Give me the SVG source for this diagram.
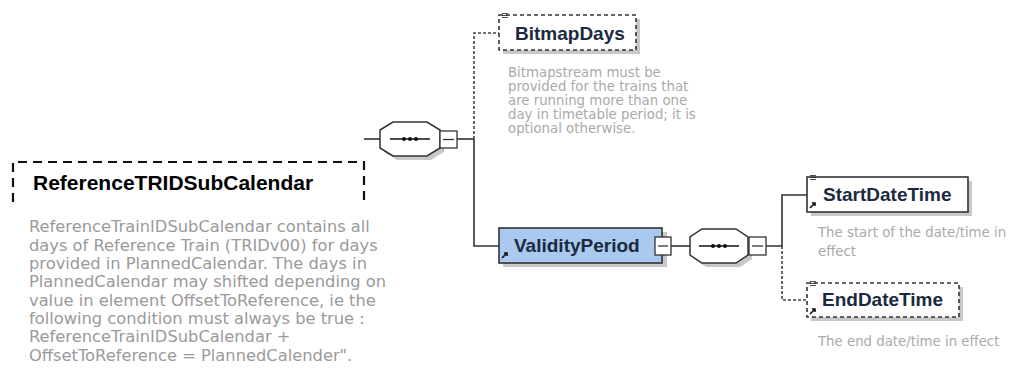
<svg xmlns="http://www.w3.org/2000/svg" width="1016" height="369" viewBox="0 0 1016 369">
<style>
.desc{font-family:"DejaVu Sans",Verdana,sans-serif;fill:#9a9a9a}
.big{font-size:16.3px}
.small{font-size:13.3px;fill:#aaaaaa}
.name{font-family:"Liberation Sans",Arial,sans-serif;font-weight:bold;font-size:19px;fill:#1a2a40}
.ln{stroke:#333;stroke-width:1.6;fill:none}
.dot{stroke:#444;stroke-width:1.6;fill:none;stroke-dasharray:3,2}
.shadow{fill:#c8c8c8}
.icon{stroke:#222;stroke-width:0.8;fill:none}
</style>
<defs>
<g id="seqdots"><line x1="-20" y1="0" x2="20" y2="0" stroke="#111" stroke-width="1.4"/><circle cx="-6" cy="0" r="2" fill="#111"/><circle cx="0" cy="0" r="2" fill="#111"/><circle cx="6" cy="0" r="2" fill="#111"/></g>
<g id="lines3"><line x1="0" y1="0.5" x2="6" y2="0.5" class="icon"/><line x1="0" y1="2.5" x2="6" y2="2.5" class="icon"/><line x1="0" y1="4.5" x2="6" y2="4.5" class="icon"/></g>
<g id="refarrow"><path d="M0,6 L5,1 M2,1 L5,1 L5,4" stroke="#111" stroke-width="1.6" fill="none"/></g>
</defs>

<g id="root">
<path d="M13,202 V162 H364 V202" fill="none" stroke="#111" stroke-width="2.2" stroke-dasharray="9,6"/>
<text x="33" y="190" font-family="Liberation Sans,Arial,sans-serif" font-weight="bold" font-size="21" fill="#000">ReferenceTRIDSubCalendar</text>
<g class="desc big">
<text x="29" y="232">ReferenceTrainIDSubCalendar contains all</text>
<text x="29" y="250.5">days of Reference Train (TRIDv00) for days</text>
<text x="29" y="269">provided in PlannedCalendar. The days in</text>
<text x="29" y="287">PlannedCalendar may shifted depending on</text>
<text x="29" y="305.5">value in element OffsetToReference, ie the</text>
<text x="29" y="324">following condition must always be true :</text>
<text x="29" y="342">ReferenceTrainIDSubCalendar +</text>
<text x="29" y="360.5">OffsetToReference = PlannedCalender".</text>
</g>
</g>

<g id="connectors">
<line x1="364" y1="139" x2="380" y2="139" class="ln"/>
<line x1="457" y1="139" x2="474" y2="139" class="ln"/>
<path d="M474,139 V246 H500" class="ln"/>
<path d="M474,139 V33 H499" class="dot"/>
<line x1="671" y1="246" x2="690" y2="246" class="ln"/>
<path d="M766,246 H782 V195 H807" class="ln"/>
<path d="M782,246 V300 H807" class="dot"/>
</g>

<g id="seq1">
<path d="M397,126 H431 L444,134 V152 L431,160 H397 L384,152 V134 Z" class="shadow"/>
<path d="M393,122 H427 L440,130 V148 L427,156 H393 L380,148 V130 Z" fill="#fff" stroke="#333" stroke-width="1.5"/>
<use href="#seqdots" x="410" y="139"/>
<rect x="440" y="131" width="17" height="17" fill="#fff" stroke="#333" stroke-width="1.3"/>
<line x1="443" y1="139.5" x2="454" y2="139.5" stroke="#333" stroke-width="1.3"/>
</g>

<g id="BitmapDays">
<rect x="503" y="19" width="137" height="35" class="shadow"/>
<rect x="499" y="15" width="137" height="35" fill="#fff" stroke="#333" stroke-width="1.6" stroke-dasharray="4,3"/>
<use href="#lines3" x="502" y="13"/>
<text x="515" y="40" class="name">BitmapDays</text>
<g class="desc small">
<text x="508" y="77">Bitmapstream must be</text>
<text x="508" y="91">provided for the trains that</text>
<text x="508" y="105">are running more than one</text>
<text x="508" y="119">day in timetable period; it is</text>
<text x="508" y="133">optional otherwise.</text>
</g>
</g>

<g id="ValidityPeriod">
<rect x="503" y="232" width="164" height="35" class="shadow"/>
<rect x="499" y="228" width="163" height="35" fill="#a9c9ee" stroke="#333" stroke-width="1.6"/>
<use href="#refarrow" x="502" y="252"/>
<text x="514" y="252" class="name">ValidityPeriod</text>
<rect x="655" y="237" width="16" height="18" fill="#fff" stroke="#333" stroke-width="1.3"/>
<line x1="658" y1="246" x2="668" y2="246" stroke="#333" stroke-width="1.3"/>
</g>

<g id="seq2">
<path d="M706,233 H740 L752,241 V259 L740,267 H706 L694,259 V241 Z" class="shadow"/>
<path d="M702,229 H736 L748,237 V255 L736,263 H702 L690,255 V237 Z" fill="#fff" stroke="#333" stroke-width="1.5"/>
<use href="#seqdots" x="719" y="246"/>
<rect x="749" y="237" width="17" height="18" fill="#fff" stroke="#333" stroke-width="1.3"/>
<line x1="752" y1="246" x2="763" y2="246" stroke="#333" stroke-width="1.3"/>
</g>

<g id="StartDateTime">
<rect x="811" y="181" width="161" height="35" class="shadow"/>
<rect x="807" y="177" width="161" height="35" fill="#fff" stroke="#333" stroke-width="1.6"/>
<use href="#lines3" x="810" y="175"/>
<use href="#refarrow" x="810" y="202"/>
<text x="823" y="201" class="name">StartDateTime</text>
<g class="desc small">
<text x="818" y="237">The start of the date/time in</text>
<text x="818" y="256">effect</text>
</g>
</g>

<g id="EndDateTime">
<rect x="811" y="287" width="152" height="34" class="shadow"/>
<rect x="807" y="283" width="152" height="34" fill="#fff" stroke="#333" stroke-width="1.6" stroke-dasharray="4,3"/>
<use href="#lines3" x="810" y="281"/>
<use href="#refarrow" x="810" y="308"/>
<text x="822" y="306" class="name">EndDateTime</text>
<g class="desc small">
<text x="818" y="346">The end date/time in effect</text>
</g>
</g>
</svg>
